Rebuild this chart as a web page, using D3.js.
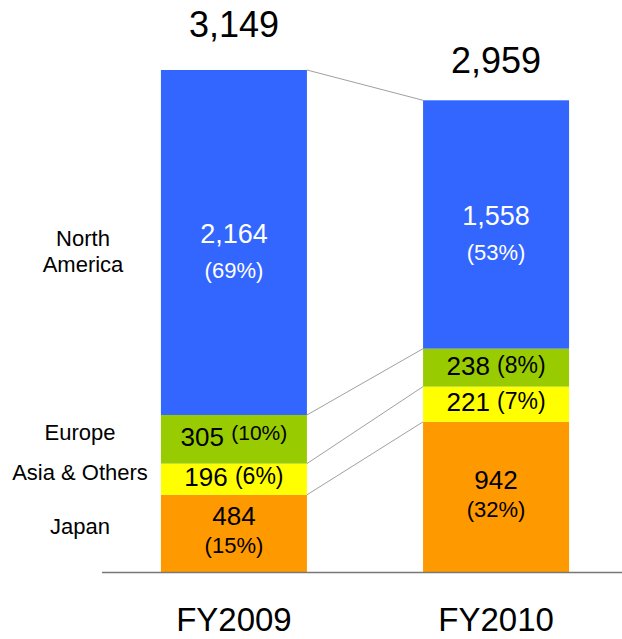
<!DOCTYPE html>
<html>
<head>
<meta charset="utf-8">
<script src="https://cdn.jsdelivr.net/npm/d3@7"></script>
<style>
  body { margin: 0; background: #fff; }
  text { font-family: "Liberation Sans", Arial, sans-serif; }
</style>
</head>
<body>
<div id="chart"></div>
<script>
var years = ["FY2009", "FY2010"];
var regions = ["Japan", "Asia & Others", "Europe", "North America"];
var japan = [484, 942];
var asia = [196, 221];
var europe = [305, 238];
var northAmerica = [2164, 1558];
var shares = {
  "Japan": ["(15%)", "(32%)"],
  "Asia & Others": ["(6%)", "(7%)"],
  "Europe": ["(10%)", "(8%)"],
  "North America": ["(69%)", "(53%)"]
};
var totals = [3149, 2959];
var colors = ["#FF9900", "#FFFF00", "#99CC00", "#3366FF"];

var w = 622, h = 639;
var base = 572;

var table = years.map(function(y, i) {
  return { year: y, "Japan": japan[i], "Asia & Others": asia[i], "Europe": europe[i], "North America": northAmerica[i] };
});
var series = d3.stack().keys(regions)(table);

var x = d3.scaleBand().domain(years).range([103, 627]).paddingInner(0.443).paddingOuter(0.221);
var y = d3.scaleLinear().domain([0, d3.max(totals)]).range([base, 70]);
var color = d3.scaleOrdinal().domain(regions).range(colors);
var fmt = d3.format(",");

var svg = d3.select("#chart").append("svg")
  .attr("width", w)
  .attr("height", h);

// connectors between the two bars
series.forEach(function(s) {
  svg.append("line")
    .attr("x1", x(years[0]) + x.bandwidth())
    .attr("y1", y(s[0][1]))
    .attr("x2", x(years[1]))
    .attr("y2", y(s[1][1]))
    .attr("stroke", "#a0a0a0")
    .attr("stroke-width", 1);
});

var groups = svg.selectAll("g.layer")
  .data(series)
  .enter()
  .append("g")
  .attr("class", "layer")
  .attr("fill", function(d) { return color(d.key); });

groups.selectAll("rect")
  .data(function(d) { return d; })
  .enter()
  .append("rect")
  .attr("x", function(d) { return x(d.data.year); })
  .attr("y", function(d) { return y(d[1]); })
  .attr("width", x.bandwidth())
  .attr("height", function(d) { return y(d[0]) - y(d[1]); });

// segment values
series.forEach(function(s) {
  var key = s.key;
  s.forEach(function(d, i) {
    var cx = x(d.data.year) + x.bandwidth() / 2;
    var top = y(d[1]), bot = y(d[0]);
    var mid = (top + bot) / 2;
    var segH = bot - top;
    var fill = key == "North America" ? "#fff" : "#000";
    var val = d[1] - d[0];
    if (segH > 60) {
      var tall = segH > 200;
      var big = tall ? mid + 1 : mid - 8;
      svg.append("text")
        .attr("x", cx).attr("y", big)
        .attr("text-anchor", "middle")
        .attr("font-size", tall ? "27px" : "26px")
        .attr("fill", fill)
        .text(fmt(val));
      svg.append("text")
        .attr("x", cx).attr("y", big + (tall ? 35 : 28))
        .attr("text-anchor", "middle")
        .attr("font-size", "22px")
        .attr("fill", fill)
        .text(shares[key][i]);
    } else {
      var wide = shares[key][i].length > 4;
      var t = svg.append("text")
        .attr("x", cx).attr("y", mid + 7)
        .attr("text-anchor", "middle")
        .attr("fill", fill);
      t.append("tspan").attr("font-size", "26px").text(fmt(val) + " ");
      t.append("tspan")
        .attr("font-size", wide ? "21px" : "23px")
        .attr("dy", wide ? -6 : -2)
        .text(shares[key][i]);
    }
  });
});

// totals
svg.selectAll("text.total")
  .data(years)
  .enter()
  .append("text")
  .attr("class", "total")
  .attr("x", function(d) { return x(d) + x.bandwidth() / 2; })
  .attr("y", function(d, i) { return y(totals[i]) - (i == 0 ? 33 : 27); })
  .attr("text-anchor", "middle")
  .attr("font-size", "36px")
  .text(function(d, i) { return fmt(totals[i]); });

// region names on the left, next to the first bar
series.forEach(function(s) {
  var d = s[0];
  var mid = (y(d[0]) + y(d[1])) / 2;
  var t = svg.append("text")
    .attr("x", 80)
    .attr("text-anchor", "middle")
    .attr("font-size", "22px");
  if (s.key == "North America") {
    t.attr("y", mid + 4);
    t.append("tspan").attr("x", 83).text("North");
    t.append("tspan").attr("x", 83).attr("dy", 26).text("America");
  } else {
    t.attr("y", mid + 1).text(s.key);
  }
});

// baseline
svg.append("line")
  .attr("x1", 102).attr("x2", w)
  .attr("y1", base + 0.5).attr("y2", base + 0.5)
  .attr("stroke", "#777")
  .attr("stroke-width", 1.5);

// x axis labels
var xAxis = d3.axisBottom(x).tickSize(0).tickPadding(0);
var ax = svg.append("g")
  .attr("transform", "translate(0," + base + ")")
  .call(xAxis);
ax.select(".domain").remove();
ax.selectAll("text")
  .attr("font-size", "33px")
  .attr("font-family", "'Liberation Sans', Arial, sans-serif")
  .attr("fill", "#000")
  .attr("dy", null)
  .attr("y", 59);
</script>
</body>
</html>
